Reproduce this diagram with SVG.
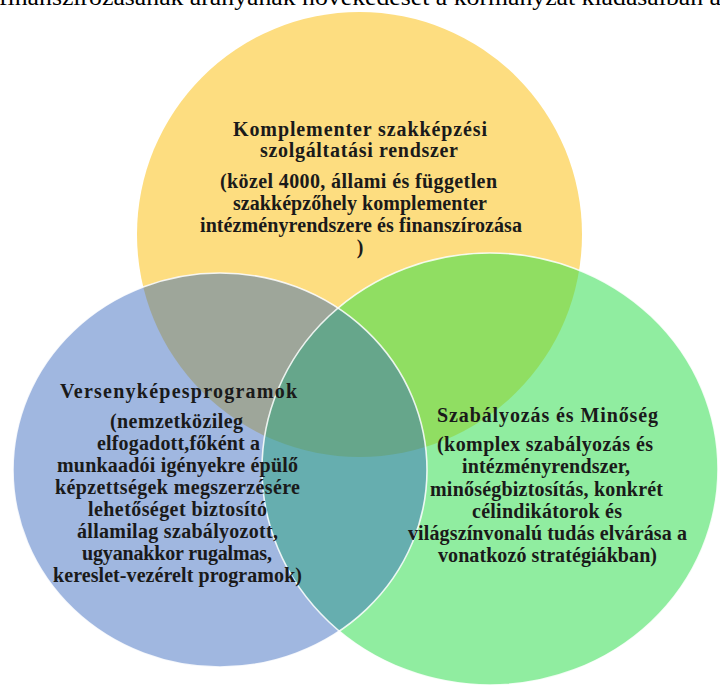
<svg xmlns="http://www.w3.org/2000/svg" width="720" height="686" viewBox="0 0 720 686">
  <style>
    .t { font-family: "Liberation Serif", "DejaVu Serif", serif; font-size: 20px; font-weight: bold; fill: #1a1a1a; text-anchor: middle; }
    .top { font-family: "Liberation Serif", "DejaVu Serif", serif; font-size: 24px; fill: #000; }
    .outline { fill: none; stroke: #ffffff; stroke-width: 1.6; stroke-opacity: 0.85; }
  </style>
  <defs>
    <clipPath id="clipYellow"><ellipse cx="359.5" cy="234.5" rx="222.5" ry="222.5"/></clipPath>
    <clipPath id="clipBlue"><ellipse cx="220" cy="470" rx="207" ry="197"/></clipPath>
  </defs>
  <rect x="0" y="0" width="720" height="686" fill="#ffffff"/>
  <text class="top" x="-1" y="5" textLength="722" lengthAdjust="spacingAndGlyphs">finanszírozásának arányának növekedését a kormányzat kiadásaiban a</text>

  <g id="shapes">
    <ellipse id="yellow" cx="359.5" cy="234.5" rx="222.5" ry="222.5" fill="#FDDD80"/>
    <ellipse id="blue" cx="220" cy="470" rx="207" ry="197" fill="#A0B7E0"/>
    <ellipse id="green" cx="490" cy="469" rx="228" ry="216" fill="#90EDA0"/>
    <ellipse cx="220" cy="470" rx="207" ry="197" fill="#9EA69A" clip-path="url(#clipYellow)"/>
    <ellipse cx="490" cy="469" rx="228" ry="216" fill="#90DE62" clip-path="url(#clipYellow)"/>
    <ellipse cx="490" cy="469" rx="228" ry="216" fill="#66AEAF" clip-path="url(#clipBlue)"/>
    <g clip-path="url(#clipYellow)">
      <ellipse cx="490" cy="469" rx="228" ry="216" fill="#66A68B" clip-path="url(#clipBlue)"/>
    </g>
    <ellipse class="outline" cx="220" cy="470" rx="207" ry="197"/>
    <ellipse class="outline" cx="490" cy="469" rx="228" ry="216"/>
  </g>

  <g id="node-komplementer">
    <text class="t" x="360" y="136" textLength="254" lengthAdjust="spacing">Komplementer szakképzési</text>
    <text class="t" x="359" y="157" textLength="198" lengthAdjust="spacing">szolgáltatási rendszer</text>
    <text class="t" x="358.5" y="188" textLength="277" lengthAdjust="spacing">(közel 4000, állami és független</text>
    <text class="t" x="360" y="210" textLength="254" lengthAdjust="spacing">szakképzőhely komplementer</text>
    <text class="t" x="361" y="232" textLength="322" lengthAdjust="spacing">intézményrendszere és finanszírozása</text>
    <text class="t" x="360" y="254">)</text>
  </g>

  <g id="node-versenykepes">
    <text class="t" x="178.5" y="398" textLength="237" lengthAdjust="spacing">Versenyképesprogramok</text>
    <text class="t" x="176.5" y="428" textLength="133" lengthAdjust="spacing">(nemzetközileg</text>
    <text class="t" x="178.5" y="450" textLength="163" lengthAdjust="spacing">elfogadott,főként a</text>
    <text class="t" x="177.5" y="472" textLength="241" lengthAdjust="spacing">munkaadói igényekre épülő</text>
    <text class="t" x="177.5" y="494" textLength="245" lengthAdjust="spacing">képzettségek megszerzésére</text>
    <text class="t" x="177.5" y="516" textLength="179" lengthAdjust="spacing">lehetőséget biztosító</text>
    <text class="t" x="177.5" y="538" textLength="201" lengthAdjust="spacing">államilag szabályozott,</text>
    <text class="t" x="177" y="560" textLength="190" lengthAdjust="spacing">ugyanakkor rugalmas,</text>
    <text class="t" x="177.5" y="582" textLength="249" lengthAdjust="spacing">kereslet-vezérelt programok)</text>
  </g>

  <g id="node-szabalyozas">
    <text class="t" x="547.5" y="422" textLength="221" lengthAdjust="spacing">Szabályozás és Minőség</text>
    <text class="t" x="545" y="451" textLength="216" lengthAdjust="spacing">(komplex szabályozás és</text>
    <text class="t" x="546" y="473" textLength="168" lengthAdjust="spacing">intézményrendszer,</text>
    <text class="t" x="546.5" y="496" textLength="233" lengthAdjust="spacing">minőségbiztosítás, konkrét</text>
    <text class="t" x="547" y="518" textLength="150" lengthAdjust="spacing">célindikátorok és</text>
    <text class="t" x="547.5" y="540" textLength="279" lengthAdjust="spacing">világszínvonalú tudás elvárása a</text>
    <text class="t" x="547.5" y="562" textLength="219" lengthAdjust="spacing">vonatkozó stratégiákban)</text>
  </g>
</svg>
